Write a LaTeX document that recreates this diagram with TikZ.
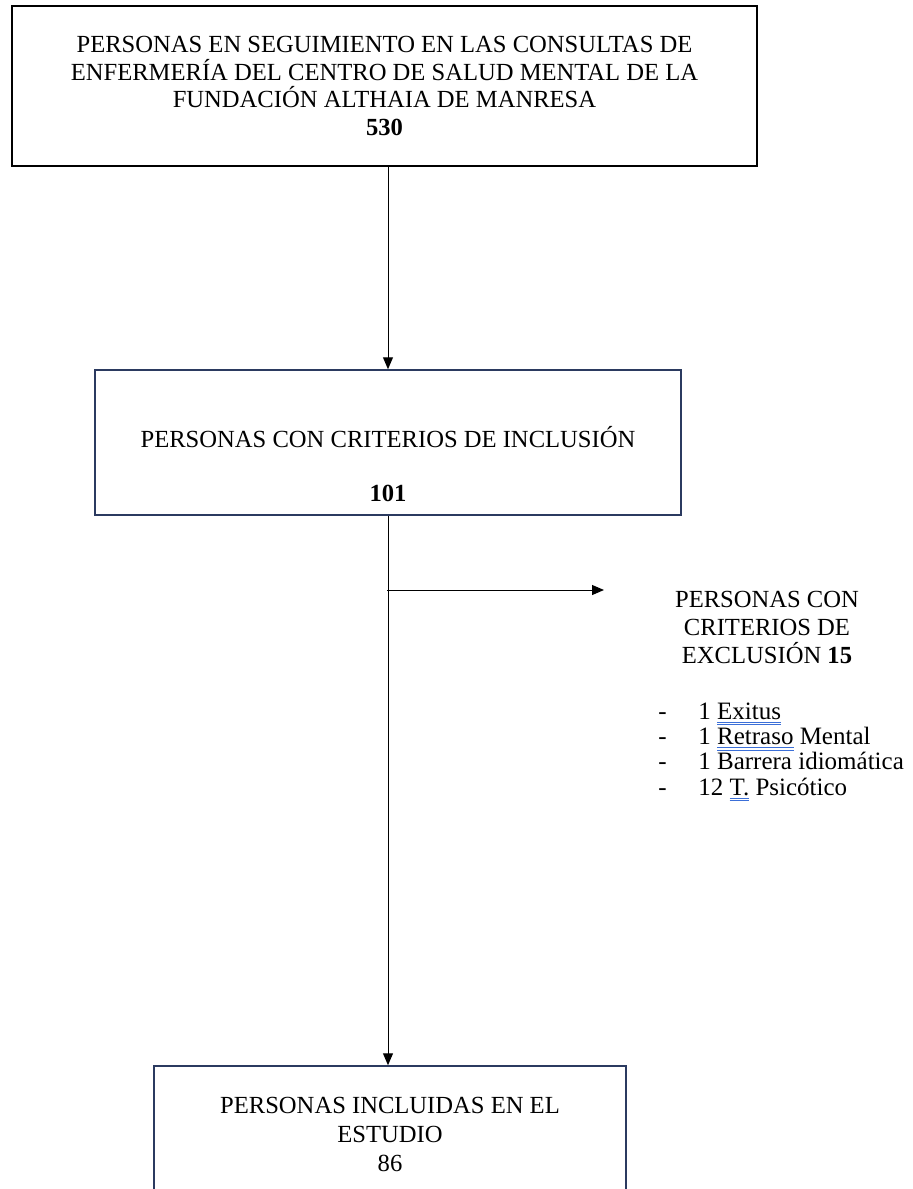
\documentclass[tikz,border=0pt]{standalone}
\usepackage{fontspec}
\setmainfont{Liberation Serif}
\usetikzlibrary{arrows.meta}
\definecolor{boxnavy}{HTML}{2B3A60}
\definecolor{spellblue}{HTML}{3B6FD8}
\newsavebox\spellbox
\newcommand\spellmark[1]{\leavevmode\sbox\spellbox{#1}\rlap{\textcolor{spellblue}{\rule[-1.8pt]{\wd\spellbox}{0.45pt}}}\rlap{\textcolor{spellblue}{\rule[-2.9pt]{\wd\spellbox}{0.45pt}}}\usebox\spellbox}
\tikzset{
    flowbox/.style={draw, rectangle, line width=0.75pt, inner sep=0pt, align=center, font=\fontsize{12.3pt}{13.75pt}\selectfont},
    flowtext/.style={inner sep=0pt, align=center, font=\fontsize{12.3pt}{13.75pt}\selectfont},
    flowarrow/.style={line width=0.5pt, -{Triangle[length=6pt,width=5pt]}}
}
\begin{document}
\begin{tikzpicture}[x=0.5pt,y=-0.5pt]
        \clip (0,0) rectangle (913,1189);
        \node [flowbox, minimum width=372.5pt, minimum height=80pt] (seg) at (384.5,86) {PERSONAS EN SEGUIMIENTO EN LAS CONSULTAS DE\\ENFERMERÍA DEL CENTRO DE SALUD MENTAL DE LA\\FUNDACIÓN ALTHAIA DE MANRESA\\\textbf{530}};
        \node [flowbox, draw=boxnavy, minimum width=293pt, minimum height=72.5pt] (inc) at (388,442.5) {};
        \node [flowtext] (inctxt) at (388,464) {PERSONAS CON CRITERIOS DE INCLUSIÓN\\[13.5pt]\textbf{101}};
        \node [flowbox, draw=boxnavy, minimum width=236pt, minimum height=117pt] (inv) at (390,1183) {};
        \node [flowtext, anchor=north] (invtxt) at (390,1097) {PERSONAS INCLUIDAS EN EL\\[0.75pt]ESTUDIO\\[0.75pt]86};
        \node [flowtext, font=\fontsize{12.3pt}{14pt}\selectfont] (exc) at (767,627) {PERSONAS CON\\CRITERIOS DE\\EXCLUSIÓN \textbf{15}};
        \node [flowtext, anchor=west, align=left, font=\fontsize{12.5pt}{12.6pt}\selectfont] (lst) at (658,752) {\makebox[20pt][l]{-}1 \spellmark{Exitus}\\\makebox[20pt][l]{-}1 \spellmark{Retraso} Mental\\\makebox[20pt][l]{-}1 Barrera idiomática\\\makebox[20pt][l]{-}12 \spellmark{T.} Psicótico};
        \coordinate (split) at (387,590);
        \coordinate (excend) at (604,590);
        \draw [flowarrow] (seg.south -| inc.north) -- (inc.north);
        \draw [flowarrow] (inc.south) -- (inc.south |- inv.north);
        \draw [flowarrow] (split) -- (excend);
\end{tikzpicture}
\end{document}
